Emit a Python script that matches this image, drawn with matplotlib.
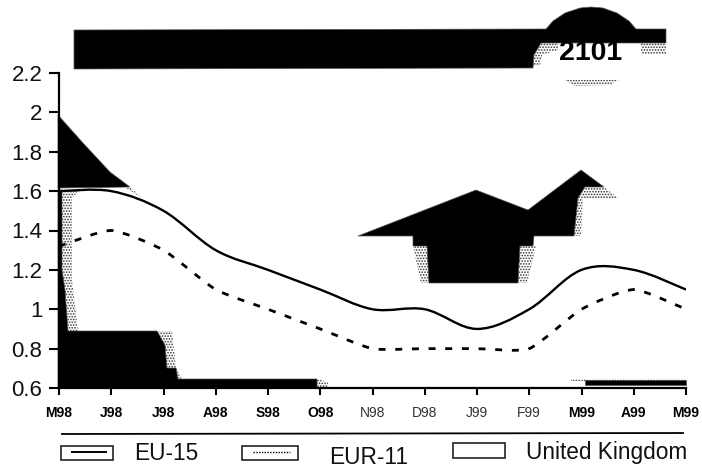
import numpy as np
import matplotlib
matplotlib.use("Agg")
import matplotlib.pyplot as plt
from matplotlib.path import Path
from matplotlib.patches import PathPatch, Polygon, Rectangle

plt.rcParams['font.family'] = ['Liberation Sans', 'DejaVu Sans']
plt.rcParams['hatch.linewidth'] = 0.8

months = ["M98", "J98", "J98", "A98", "S98", "O98", "N98", "D98", "J99", "F99", "M99", "A99", "M99"]
bold_months = [True, True, True, True, True, True, False, False, False, False, True, True, True]
eu15 = [1.6, 1.6, 1.5, 1.3, 1.2, 1.1, 1.0, 1.0, 0.9, 1.0, 1.2, 1.2, 1.1]
eur11 = [1.32, 1.4, 1.3, 1.1, 1.0, 0.9, 0.8, 0.8, 0.8, 0.8, 1.0, 1.1, 1.0]
yticks = [0.6, 0.8, 1, 1.2, 1.4, 1.6, 1.8, 2, 2.2]
legend_names = ["EU-15", "EUR-11", "United Kingdom"]
stamp_text = "2101"

W, H = 702, 472
fig = plt.figure(figsize=(W / 100, H / 100), dpi=100, facecolor="white")

# Scan blotches sit on a full-figure pixel layer behind the chart
bg = fig.add_axes([0, 0, 1, 1], zorder=0)
bg.set_xlim(0, W)
bg.set_ylim(H, 0)
bg.axis("off")

black_shapes = [
    [(74, 30), (546, 29), (553, 21), (565, 13), (580, 8), (591, 7), (603, 8), (617, 13),
     (629, 21), (636, 29), (666, 29), (666, 43), (541, 43), (534, 55), (533, 68), (74, 69)],
    [(58, 115), (83, 143), (110, 172), (130, 187), (58, 188)],
    [(58, 190), (62, 190), (62, 270), (65, 290), (68, 331), (157, 331), (165, 345), (167, 368),
     (176, 368), (178, 379), (317, 379), (317, 388), (58, 388)],
    [(358, 236), (476, 190), (528, 210), (581, 170), (604, 187), (585, 187), (578, 198),
     (574, 236), (534, 236), (533, 246), (520, 246), (518, 283), (429, 283), (427, 246),
     (413, 246), (413, 236)],
    [(585, 380), (686, 380), (686, 385), (585, 385)],
]
dither_shapes = [
    [(641, 43), (666, 43), (666, 54), (641, 54)],
    [(534, 43), (558, 43), (558, 50), (542, 55), (540, 66), (533, 66)],
    [(62, 190), (80, 190), (72, 198), (72, 280), (78, 331), (66, 331), (62, 270)],
    [(130, 187), (142, 198), (126, 188)],
    [(157, 331), (172, 331), (176, 368), (182, 380), (176, 379), (165, 368)],
    [(317, 379), (328, 382), (328, 387), (317, 387)],
    [(604, 187), (618, 198), (578, 198), (585, 187)],
    [(574, 198), (583, 198), (581, 236), (572, 236)],
    [(413, 246), (429, 246), (429, 283), (421, 283)],
    [(518, 246), (536, 246), (527, 283), (518, 283)],
    [(571, 379), (686, 379), (686, 381), (571, 381)],
    [(565, 80), (618, 80), (610, 85), (575, 86)],
]
for shape in dither_shapes:
    bg.add_patch(Polygon(shape, closed=True, facecolor="white", edgecolor="#333333",
                         hatch="......", linewidth=0))
for shape in black_shapes:
    bg.add_patch(Polygon(shape, closed=True, facecolor="black", edgecolor="#555555", linewidth=0.5))

bg.text(591, 53, stamp_text, ha="center", va="center", fontsize=20.5, fontweight="bold", color="black")

# Chart
ax = fig.add_axes([59 / W, 1 - 388 / H, (686 - 59) / W, (388 - 73) / H], zorder=1)
ax.patch.set_alpha(0)
ax.set_xlim(0, len(months) - 1)
ax.set_ylim(0.6, 2.2)


def smooth_path(xs, ys, k=1 / 6):
    """Cubic Bezier path through the points, as a smoothed spreadsheet line."""
    pts = np.column_stack([xs, ys])
    verts = [pts[0]]
    codes = [Path.MOVETO]
    for i in range(len(pts) - 1):
        p0 = pts[max(i - 1, 0)]
        p1 = pts[i]
        p2 = pts[i + 1]
        p3 = pts[min(i + 2, len(pts) - 1)]
        verts += [p1 + (p2 - p0) * k, p2 - (p3 - p1) * k, p2]
        codes += [Path.CURVE4] * 3
    return Path(verts, codes)


x = np.arange(len(months))
ax.add_patch(PathPatch(smooth_path(x, eu15), fill=False, edgecolor="black", linewidth=1.7, zorder=3))
ax.add_patch(PathPatch(smooth_path(x, eur11, k=0.1), fill=False, edgecolor="black", linewidth=2,
                       linestyle=(0, (2.5, 3.5)), zorder=3))

for side in ("top", "right"):
    ax.spines[side].set_visible(False)
ax.spines["left"].set_linewidth(1.6)
ax.spines["bottom"].set_linewidth(1.6)

ax.set_yticks(yticks)
ax.set_yticklabels([f"{v:g}" for v in yticks], fontsize=16, color="#111111")
ax.tick_params(axis="y", length=7, width=1.5, pad=5)
ax.set_xticks(x)
ax.set_xticklabels(months, fontsize=10)
ax.tick_params(axis="x", length=5, width=1.5, pad=8)
for lab, b in zip(ax.get_xticklabels(), bold_months):
    lab.set_fontweight("bold" if b else "normal")
    lab.set_color("black" if b else "#333333")

# Legend, laid out as in the scan
bg.plot([62, 683], [434, 433], color="black", linewidth=1.3)
box_style = dict(facecolor="white", edgecolor="#222222", linewidth=1.2)
bg.add_patch(Rectangle((61, 446), 52, 14, **box_style))
bg.plot([72, 106], [452, 452], color="black", linewidth=1.4)
bg.add_patch(Rectangle((242, 446), 56, 14, **box_style))
bg.plot([253, 290], [452, 452], color="black", linewidth=1, linestyle=(0, (1, 1)))
bg.add_patch(Rectangle((453, 443), 52, 15, **box_style))
bg.text(134, 453, legend_names[0], fontsize=16.3, va="center", ha="left", color="#111111")
bg.text(329, 458, legend_names[1], fontsize=16.3, va="center", ha="left", color="#111111")
bg.text(526, 452, legend_names[2], fontsize=16.3, va="center", ha="left", color="#111111")

fig.savefig("out.png", dpi=100)
